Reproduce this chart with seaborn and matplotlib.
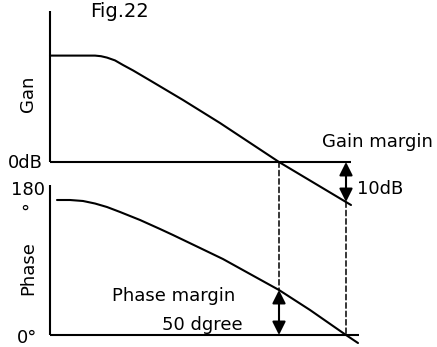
import matplotlib
matplotlib.use("Agg")
import matplotlib.pyplot as plt
from matplotlib.patches import ConnectionPatch
import seaborn as sns

sns.set_theme(style="white")
plt.rcParams["font.family"] = ["DejaVu Sans"]
plt.rcParams["text.color"] = "black"

# Open-loop gain curve (frequency position, dB)
freq_gain = [50, 95, 101, 107, 115, 123, 133, 150, 183, 220, 279, 351]
gain_db = [26.6, 26.6, 26.45, 26.1, 25.4, 24.25, 22.9, 20.4, 15.5, 9.75, 0.0, -10.75]

# Open-loop phase curve (frequency position, degrees)
freq_phase = [57, 70, 83, 95, 107, 120, 140, 160, 173, 200, 223, 250, 279, 310, 346, 358]
phase_deg = [150, 150, 148.9, 146.1, 142.2, 136.7, 127.8, 117.8, 111.1, 96.7, 84.4,
             67.8, 50.0, 27.8, 0.0, -8.9]

gain_crossover = 279      # frequency where gain = 0 dB
phase_crossover = 346     # frequency where phase = 0 deg
gain_margin_db = 10
phase_margin_deg = 50

W, H = 437, 347
fig = plt.figure(figsize=(W / 100, H / 100), dpi=100)

canvas = fig.add_axes([0, 0, 1, 1])
canvas.set_xlim(0, W)
canvas.set_ylim(H, 0)
canvas.axis("off")

ax_g = fig.add_axes([0, 0, 1, 1])
ax_g.set_xlim(0, W)
ax_g.set_ylim(-46.25, 40.5)
ax_g.axis("off")
ax_g.patch.set_alpha(0)

ax_p = fig.add_axes([0, 0, 1, 1])
ax_p.set_xlim(0, W)
ax_p.set_ylim(-13.33, 372.22)
ax_p.axis("off")
ax_p.patch.set_alpha(0)

lw = 1.5
k = "black"

# Gain panel frame
ax_g.plot([50, 50], [0, 37.75], color=k, lw=lw, solid_capstyle="butt")
ax_g.plot([50, 351], [0, 0], color=k, lw=lw, solid_capstyle="butt")
sns.lineplot(x=freq_gain, y=gain_db, ax=ax_g, color=k, lw=lw, sort=False, estimator=None)

# Phase panel frame
ax_p.plot([50, 50], [0, 166.7], color=k, lw=lw, solid_capstyle="butt")
ax_p.plot([50, 359], [0, 0], color=k, lw=lw, solid_capstyle="butt")
sns.lineplot(x=freq_phase, y=phase_deg, ax=ax_p, color=k, lw=lw, sort=False, estimator=None)

# Dashed drop lines linking the two panels
dash = dict(color=k, lw=1.1, linestyle=(0, (3.5, 2)))
fig.add_artist(ConnectionPatch(xyA=(gain_crossover, 0), coordsA=ax_g.transData,
                               xyB=(gain_crossover, phase_margin_deg), coordsB=ax_p.transData,
                               **dash))
fig.add_artist(ConnectionPatch(xyA=(phase_crossover, -gain_margin_db), coordsA=ax_g.transData,
                               xyB=(phase_crossover, 0), coordsB=ax_p.transData,
                               **dash))

# Margin arrows
arrow = dict(arrowstyle="<|-|>,head_length=0.8,head_width=0.4", color=k, lw=lw,
             mutation_scale=10, shrinkA=0, shrinkB=0)
ax_g.annotate("", xy=(phase_crossover, -gain_margin_db), xytext=(phase_crossover, 0),
              arrowprops=arrow)
ax_p.annotate("", xy=(gain_crossover, phase_margin_deg), xytext=(gain_crossover, 0),
              arrowprops=arrow)

# Labels
fs = 13
canvas.text(120, 17, "Fig.22", fontsize=14, ha="center", va="baseline")
canvas.text(33, 94, "Gan", fontsize=fs, rotation=90, rotation_mode="anchor",
            ha="center", va="baseline")
canvas.text(43, 168, "0dB", fontsize=fs, ha="right", va="baseline")
canvas.text(322, 147, "Gain margin", fontsize=fs, ha="left", va="baseline")
canvas.text(357, 194, "10dB", fontsize=fs, ha="left", va="baseline")
canvas.text(45, 195, "180", fontsize=fs, ha="right", va="baseline")
canvas.text(24.5, 218, "°", fontsize=fs, ha="center", va="baseline")
canvas.text(33, 268.5, "Phase", fontsize=fs, rotation=90, rotation_mode="anchor",
            ha="center", va="baseline")
canvas.text(112, 301, "Phase margin", fontsize=fs, ha="left", va="baseline")
canvas.text(162, 330, "50 dgree", fontsize=fs, ha="left", va="baseline")
canvas.text(17, 343, "0°", fontsize=fs, ha="left", va="baseline")

fig.savefig("out.png", dpi=100, facecolor="white")
